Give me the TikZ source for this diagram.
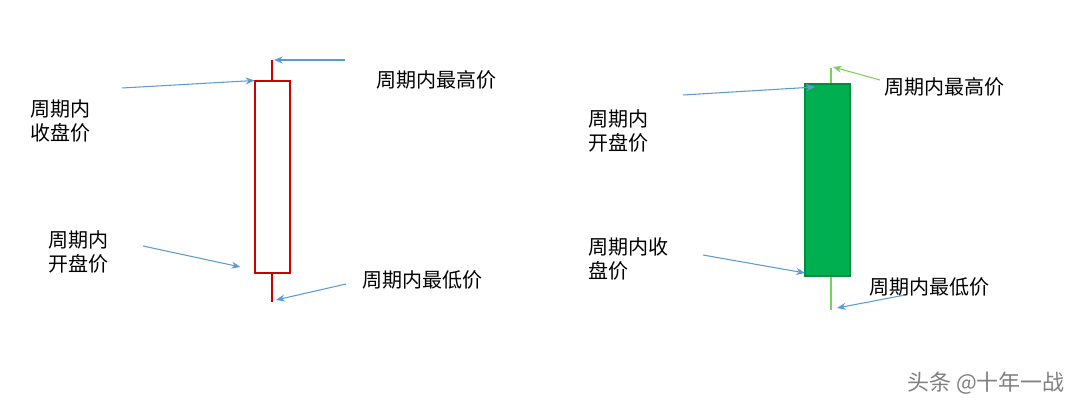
\documentclass[tikz,border=0pt]{standalone}
\usepackage{fontspec}
\setmainfont{Noto Sans CJK SC}
\usetikzlibrary{positioning,arrows.meta}
\definecolor{arrowblue}{RGB}{91,155,213}
\definecolor{candlegreen}{RGB}{0,176,80}
\definecolor{wickgreen}{RGB}{120,210,90}
\begin{document}
\begin{tikzpicture}[
        x=0.02cm, y=-0.02cm,
        label/.style={font=\fontsize{11.4}{14}\selectfont, align=left, inner sep=0pt},
        pointer/.style={arrowblue, line width=0.6pt, -{Stealth[length=5pt,width=4pt]}},
        greenpointer/.style={wickgreen, line width=0.6pt, -{Stealth[length=5pt,width=4pt]}}
    ]
        \useasboundingbox (0,0) rectangle (1077,411);
        % Rising candle
        \draw[red!80!black, line width=0.6pt] (272,60) -- (272,81);
        \draw[red!80!black, line width=0.6pt] (272,273) -- (272,302);
        \node[draw=red!80!black, fill=white, line width=0.6pt, minimum width=0.7cm, minimum height=3.84cm, inner sep=0pt] (upbody) at (272.5,177) {};
        \coordinate (uphigh) at (274,60);
        \coordinate (uplow) at (276,300);
        \node[label, anchor=west] (uphightext) at (376,80) {周期内最高价};
        \node[label, anchor=west] (upclosetext) at (30,121) {周期内\\收盘价};
        \node[label, anchor=west] (upopentext) at (48,252) {周期内\\开盘价};
        \node[label, anchor=west] (uplowtext) at (362,280) {周期内最低价};
        \coordinate (a1) at (345,60);
        \coordinate (a2) at (122,88);
        \coordinate (a3) at (143,246);
        \coordinate (a4) at (346,284);
        \draw[pointer] (a1) -- (uphigh);
        \draw[pointer] (a2) -- (upbody.north west);
        \draw[pointer] (a3) -- ([xshift=-8]upbody.south west |- 0,267);
        \draw[pointer] (a4) -- (uplow);
        % Falling candle
        \draw[wickgreen, line width=0.6pt] (831,68) -- (831,84);
        \draw[wickgreen, line width=0.6pt] (831,276) -- (831,310);
        \node[draw=candlegreen!80!black, fill=candlegreen, line width=0.6pt, minimum width=0.9cm, minimum height=3.84cm, inner sep=0pt] (downbody) at (827.5,180) {};
        \coordinate (downhigh) at (833,67);
        \coordinate (downopen) at (815,87);
        \coordinate (downclose) at (805,273);
        \coordinate (downlow) at (837,308);
        \node[label, anchor=west] (downhightext) at (884,87) {周期内最高价};
        \node[label, anchor=west] (downopentext) at (588,131) {周期内\\开盘价};
        \node[label, anchor=west] (downclosetext) at (588,259) {周期内收\\盘价};
        \node[label, anchor=west] (downlowtext) at (869,287) {周期内最低价};
        \coordinate (b1) at (880,80);
        \coordinate (b2) at (683,95);
        \coordinate (b3) at (703,255);
        \coordinate (b4) at (905,295);
        \draw[greenpointer] (b1) -- (downhigh);
        \draw[pointer] (b2) -- (downopen);
        \draw[pointer] (b3) -- (downclose);
        \draw[pointer] (b4) -- (downlow);
        % Watermark
        \node[label, anchor=east, text=gray, font=\fontsize{12.5}{15}\selectfont] (mark) at (1065,383) {头条 @十年一战};
\end{tikzpicture}
\end{document}
